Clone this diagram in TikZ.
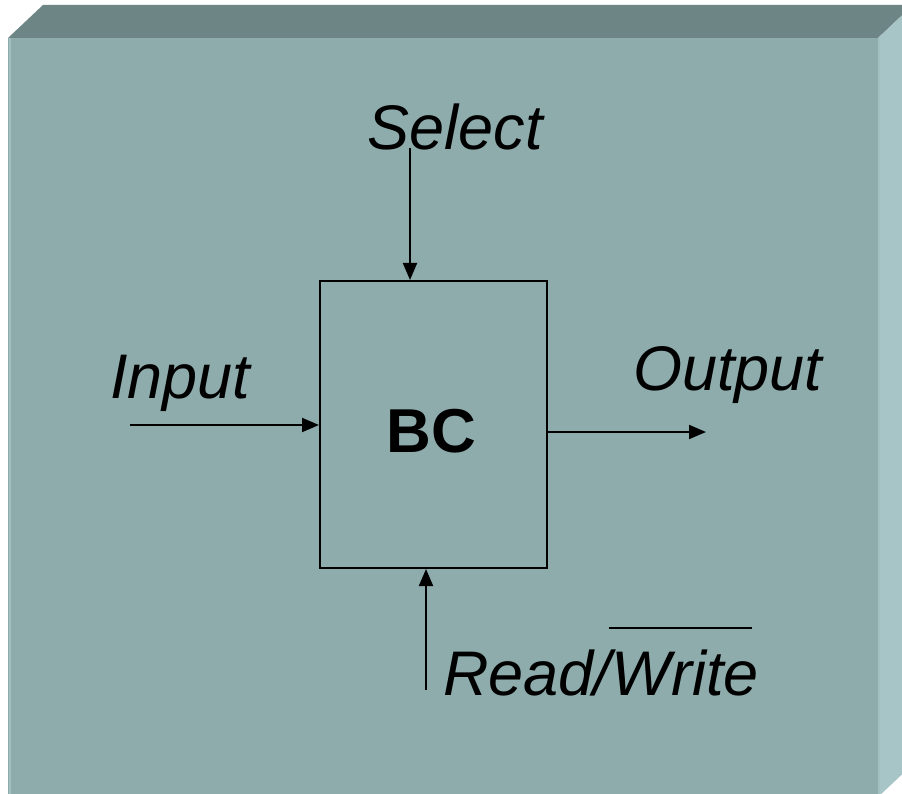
\documentclass[tikz,border=0pt]{standalone}
\usepackage{fontspec}
\setmainfont{Liberation Sans}
\usetikzlibrary{arrows.meta}
\definecolor{frontc}{HTML}{8FACAD}
\definecolor{topc}{HTML}{6E8586}
\definecolor{sidec}{HTML}{A7C5C7}
\definecolor{edgec}{HTML}{A3C0C1}
\tikzset{
  lbl/.style={font=\fontsize{63}{70}\selectfont\itshape, inner sep=0pt},
  wire/.style={line width=2pt, -{Triangle[width=14pt,length=17pt]}},
  blk/.style={draw, line width=2pt, minimum width=227pt, minimum height=287pt, inner sep=0pt},
  blktext/.style={font=\fontsize{62}{68}\selectfont\bfseries, inner sep=0pt}
}
\begin{document}
\begin{tikzpicture}[x=1pt,y=-1pt]
\clip (0,0) rectangle (902,794);
\fill[white] (0,0) rectangle (902,794);
% slab
\fill[topc] (8,38) -- (43,5) -- (913,5) -- (878,38) -- cycle;
\fill[sidec] (878,38) -- (913,5) -- (913,764) -- (878,797) -- cycle;
\fill[frontc] (8,38) rectangle (878,797);
\draw[edgec, line width=2pt] (10,38) -- (10,797);
\draw[edgec, line width=1.5pt] (879,38) -- (879,797);
% block
\node[blk] (bc) at (433.5,424.5) {};
\node[blktext] (bct) at (431.5,431.5) {BC};
% labels
\node[lbl, anchor=base] (sel) at (455,150) {Select};
\node[lbl, anchor=base west] (inp) at (110,398) {Input};
\node[lbl, anchor=base west] (out) at (633,390) {Output};
\node[lbl, anchor=base west] (rd) at (443,695) {Read/};
\node[lbl, anchor=base west] (wr) at (rd.base east) {Write};
\draw[line width=2pt] ([yshift=21pt,xshift=-3pt]wr.north west) -- ([yshift=21pt,xshift=-7pt]wr.north east);
% wire ends
\coordinate (s0) at (410,148);
\coordinate (i0) at (130,425);
\coordinate (o1) at (706,432);
\coordinate (r0) at (426,690);
\draw[wire] (s0) -- (s0 |- bc.north);
\draw[wire] (i0) -- (i0 -| bc.west);
\draw[wire] (o1 -| bc.east) -- (o1);
\draw[wire] (r0) -- (r0 |- bc.south);
\end{tikzpicture}
\end{document}
